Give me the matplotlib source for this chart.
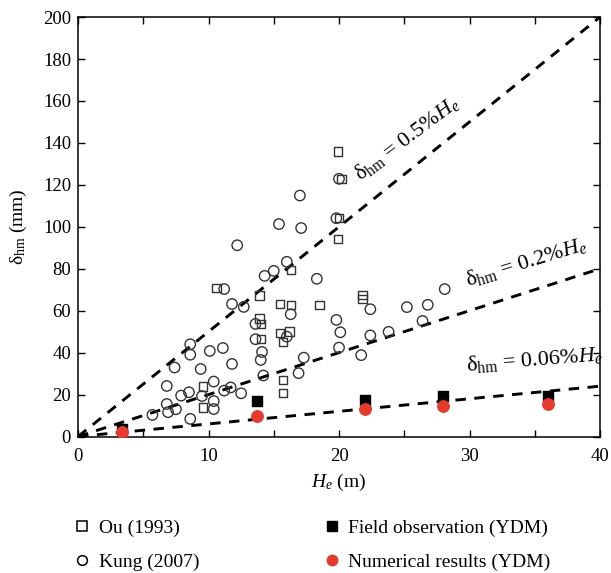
import matplotlib
matplotlib.use('Agg')
import matplotlib.pyplot as plt
from matplotlib.lines import Line2D
from matplotlib.ticker import MultipleLocator
import numpy as np

plt.rcParams['font.family'] = ['Liberation Serif', 'DejaVu Serif']
plt.rcParams['mathtext.fontset'] = 'custom'
plt.rcParams['mathtext.rm'] = 'Liberation Serif'
plt.rcParams['mathtext.it'] = 'Liberation Serif:italic'

# Ou (1993): excavation depth He (m) vs max wall deflection (mm)
ou_he = [19.9, 20.2, 20.0, 19.9, 10.6, 16.3, 13.9, 13.9, 14.0, 14.0, 15.5, 16.3,
         18.5, 21.8, 21.8, 15.5, 16.2, 15.7, 15.7, 15.7, 9.6, 9.6]
ou_dhm = [135.9, 122.9, 104.1, 94.1, 70.7, 79.5, 67.2, 56.3, 53.5, 46.5, 63.1, 62.8,
          62.8, 67.4, 65.5, 49.3, 50.0, 45.0, 27.0, 20.6, 23.8, 13.9]

# Kung (2007)
kung_he = [20.0, 17.0, 15.4, 17.1, 19.8, 12.2, 16.0, 15.0, 14.3, 18.3, 11.2, 11.8,
           12.7, 13.6, 13.6, 14.1, 14.0, 16.3, 16.0, 19.8, 20.1, 20.0, 17.3, 16.9,
           14.2, 22.4, 22.4, 21.7, 23.8, 25.2, 26.8, 26.4, 28.1, 8.6, 8.6, 10.1,
           11.1, 11.8, 7.4, 9.4, 10.4, 6.8, 11.2, 11.7, 12.5, 7.9, 8.5, 9.5, 10.4,
           6.8, 10.4, 6.9, 7.5, 5.7, 8.6]
kung_dhm = [122.9, 114.9, 101.3, 99.4, 104.1, 91.2, 83.3, 79.0, 76.6, 75.2, 70.3, 63.2,
            61.8, 53.7, 46.4, 40.3, 36.5, 58.3, 47.6, 55.6, 49.7, 42.4, 37.6, 30.2,
            29.1, 60.7, 48.2, 38.8, 49.9, 61.7, 62.8, 55.1, 70.3, 44.0, 39.0, 40.8,
            42.2, 34.6, 32.9, 32.2, 26.2, 24.1, 21.9, 23.4, 20.6, 19.5, 21.1, 19.3, 16.9,
            15.5, 13.1, 11.6, 13.0, 10.3, 8.4]

# YDM project
field_he = [3.4, 13.7, 22.0, 28.0, 36.0]
field_dhm = [3.5, 16.9, 17.4, 19.5, 19.5]
num_he = [3.4, 13.7, 22.0, 28.0, 36.0]
num_dhm = [2.1, 10.0, 13.3, 14.7, 15.3]

# reference lines: delta_hm = ratio * He  (mm per m)
ratios = [0.5, 0.2, 0.06]
line_labels = [r'δ$_{\mathrm{hm}}$ = 0.5%$H_e$',
               r'δ$_{\mathrm{hm}}$ = 0.2%$H_e$',
               r'δ$_{\mathrm{hm}}$ = 0.06%$H_e$']
label_pos = [(25.2, 142.3, 37), (34.3, 83.0, 17), (35.0, 36.5, 4.5)]

red = '#e53b2c'
edge = '#333333'

fig = plt.figure(figsize=(6.11, 5.73), dpi=100)
ax = fig.add_axes([0.1277, 0.2382, 0.8543, 0.732])

he_line = np.array([0, 40])
for r in ratios:
    ax.plot(he_line, he_line * r * 10, color='black', lw=2.1,
            linestyle=(0, (3.6, 2.9)), zorder=2)

ax.scatter(ou_he, ou_dhm, marker='s', s=36, facecolors='none',
           edgecolors=edge, linewidths=1.0, zorder=3)
ax.scatter(kung_he, kung_dhm, marker='o', s=56, facecolors='none',
           edgecolors=edge, linewidths=1.0, zorder=3)
ax.scatter(field_he, field_dhm, marker='s', s=50, color='black', zorder=4)
ax.scatter(num_he, num_dhm, marker='o', s=68, color=red, zorder=5)

for text, (x, y, rot) in zip(line_labels, label_pos):
    ax.text(x, y, text, rotation=rot, rotation_mode='anchor', ha='center',
            va='center', fontsize=16, clip_on=False, zorder=6)

ax.set_xlim(0, 40)
ax.set_ylim(0, 200)
ax.xaxis.set_major_locator(MultipleLocator(10))
ax.xaxis.set_minor_locator(MultipleLocator(5))
ax.yaxis.set_major_locator(MultipleLocator(20))
ax.tick_params(which='both', direction='in', top=True, right=True,
               length=5, width=1, labelsize=13.5)
ax.tick_params(axis='x', pad=8)
ax.tick_params(axis='y', pad=5)
for s in ax.spines.values():
    s.set_linewidth(1.1)

ax.set_xlabel(r'$H_e$ (m)', fontsize=14, labelpad=5)
ax.set_ylabel(r'δ$_{\mathrm{hm}}$ (mm)', fontsize=14, labelpad=10)

handles = [
    Line2D([], [], marker='s', ls='none', ms=6.5, mfc='none', mec='black', mew=1.1),
    Line2D([], [], marker='o', ls='none', ms=7, mfc='none', mec='black', mew=1.1),
    Line2D([], [], marker='s', ls='none', ms=7, color='black'),
    Line2D([], [], marker='o', ls='none', ms=7.5, color=red),
]
names = ['Ou (1993)', 'Kung (2007)', 'Field observation (YDM)', 'Numerical results (YDM)']
fig.legend(handles, names, loc='upper left', bbox_to_anchor=(0.106, 0.107),
           ncol=2, frameon=False, fontsize=14, handlelength=1.0,
           handletextpad=0.35, columnspacing=6.3, labelspacing=0.85,
           borderaxespad=0)

fig.savefig('out.png', dpi=100)
